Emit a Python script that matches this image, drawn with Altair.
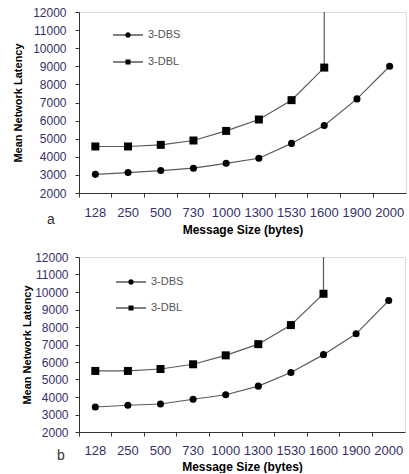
import altair as alt
import pandas as pd

cats = ["128", "250", "500", "730", "1000", "1300", "1530", "1600", "1900", "2000"]
series_names = ["3-DBS", "3-DBL"]
y_ticks = [2000, 3000, 4000, 5000, 6000, 7000, 8000, 9000, 10000, 11000, 12000]

# panel a
a_dbs = [3030, 3130, 3240, 3370, 3640, 3920, 4740, 5730, 7200, 9000]
a_dbl = [4570, 4570, 4660, 4900, 5430, 6060, 7130, 8930]
# panel b
b_dbs = [3430, 3530, 3600, 3870, 4130, 4620, 5400, 6420, 7610, 9510]
b_dbl = [5490, 5490, 5600, 5870, 6380, 7020, 8110, 9900]
# the 3-DBL curve shoots off the top of the chart at 1600 bytes
off_chart_cat = "1600"
off_chart_val = 12000

FONT = "Liberation Sans"
LABEL_COL = "#34306a"

# legend glyphs: short line with the marker in the middle (filled shapes only)
leg_paths = [
    "M-1,-0.11H1.6V0.11H-1Z M2.4,-0.11H5V0.11H2.4Z "
    "M1.45,0A0.55,0.55 0 1,1 2.55,0A0.55,0.55 0 1,1 1.45,0Z",
    "M-1,-0.11H1.6V0.11H-1Z M2.4,-0.11H5V0.11H2.4Z "
    "M1.5,-0.5H2.5V0.5H1.5Z",
]


def panel(dbs, dbl, tag, width, height, ypad, ytitlepad, xlabpad, xtitlepad,
          legx, legy, legrow, tagdx, tagdy):
    pts = pd.DataFrame(
        [{"cat": c, "value": v, "series": "3-DBS", "order": i} for i, (c, v) in enumerate(zip(cats, dbs))]
        + [{"cat": c, "value": v, "series": "3-DBL", "order": i} for i, (c, v) in enumerate(zip(cats, dbl))]
    )
    line_df = pd.concat([
        pts,
        pd.DataFrame([{"cat": off_chart_cat, "value": off_chart_val, "series": "3-DBL", "order": len(dbl)}]),
    ], ignore_index=True)

    x = alt.X("cat:N", sort=cats,
              scale=alt.Scale(type="band", domain=cats, paddingInner=0, paddingOuter=0),
              axis=alt.Axis(title="Message Size (bytes)", bandPosition=0, labelOffset=0,
                            labelAngle=0, tickSize=4, labelPadding=xlabpad, titlePadding=xtitlepad,
                            labelFont=FONT, labelFontSize=13, labelColor=LABEL_COL,
                            titleFont=FONT, titleFontSize=12, titleFontWeight="bold",
                            titleColor="black", domainColor="#333", tickColor="#333"))
    y = alt.Y("value:Q",
              scale=alt.Scale(domain=[2000, 12000], nice=False, zero=False),
              axis=alt.Axis(title="Mean Network Latency", values=y_ticks, format="d", grid=False,
                            tickSize=4, labelPadding=ypad, titlePadding=ytitlepad,
                            labelFont=FONT, labelFontSize=12, labelColor=LABEL_COL,
                            titleFont=FONT, titleFontSize=11, titleFontWeight="bold",
                            titleColor="black", domainColor="#333", tickColor="#333"))

    lines = alt.Chart(line_df).mark_line(color="#5a5a5a", strokeWidth=1.2, clip=True).encode(
        x=x, y=y, detail="series:N", order="order:Q")
    marks = alt.Chart(pts).mark_point(filled=True, color="black", opacity=1).encode(
        x=x, y=y,
        shape=alt.Shape("series:N", scale=alt.Scale(domain=series_names, range=["circle", "square"]), legend=None),
        size=alt.Size("series:N", scale=alt.Scale(domain=series_names, range=[50, 64]), legend=None))
    leg = alt.Chart(pts).transform_filter("false").mark_point(
        filled=True, color="black", size=100, opacity=1).encode(
        x=x, y=y,
        shape=alt.Shape("series:N", scale=alt.Scale(domain=series_names, range=leg_paths),
                        legend=alt.Legend(title=None, orient="none", legendX=legx, legendY=legy,
                                          padding=0, rowPadding=legrow, symbolSize=100,
                                          symbolFillColor="black", labelOffset=24,
                                          labelFont=FONT, labelFontSize=11, labelColor="#555")))
    return alt.layer(lines, marks, leg).resolve_scale(shape="independent", size="independent").properties(
        width=width, height=height,
        title=alt.TitleParams(text=tag, orient="bottom", anchor="start", frame="group",
                              dx=tagdx, dy=tagdy, fontSize=14, font=FONT, fontWeight="normal",
                              color="#333", offset=0))


pa = panel(a_dbs, a_dbl, "a", 327, 181, 9, 9, 9, 5, 33, 17, 15, -32, -22)
pb = panel(b_dbs, b_dbl, "b", 326, 175, 7, 2, 8, 4, 36, 19, 14, -22, -23)

chart = alt.vconcat(pa, pb, spacing=14).properties(
    padding={"left": 12, "top": 5, "right": 0, "bottom": 0}
).configure_view(stroke="#555", strokeWidth=1).configure(background="white")

chart.save("out.html", embed_options={"renderer": "svg", "actions": False})
